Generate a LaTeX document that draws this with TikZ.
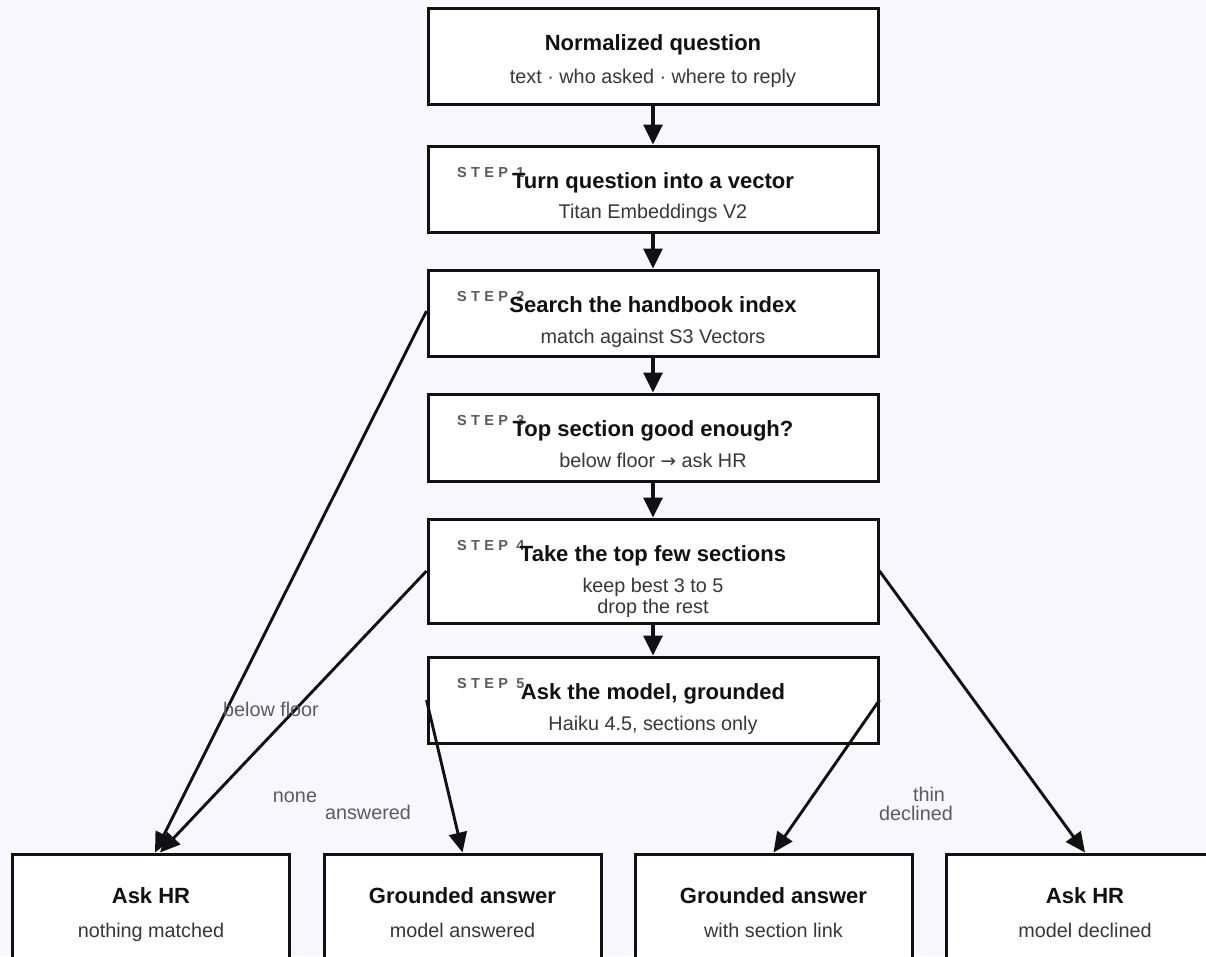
\documentclass[tikz,border=0pt]{standalone}
\usepackage{fontspec}
\setmainfont{Liberation Sans}
\newfontfamily\stepfont[LetterSpace=30]{Liberation Sans}
\newfontfamily\arrowfont{DejaVu Sans}
\usetikzlibrary{arrows.meta}
\definecolor{bg}{RGB}{248,247,254}
\definecolor{ink}{RGB}{17,17,17}
\definecolor{subc}{RGB}{55,55,58}
\definecolor{graylbl}{RGB}{90,90,95}
\begin{document}
\begin{tikzpicture}[x=1pt,y=-1pt,
  box/.style={draw=ink, line width=3pt, fill=white, minimum width=450pt, inner sep=0pt},
  bbox/.style={draw=ink, line width=3pt, fill=white, minimum width=277pt, minimum height=140pt, inner sep=0pt},
  ttl/.style={font=\fontsize{22}{26}\selectfont\bfseries, text=ink, anchor=base, inner sep=0pt},
  sub/.style={font=\fontsize{19.8}{23}\selectfont, text=subc, anchor=base, inner sep=0pt},
  steplbl/.style={font=\stepfont\fontsize{14.5}{16}\selectfont\bfseries, text=graylbl, anchor=base west, inner sep=0pt},
  elbl/.style={font=\fontsize{19.8}{22}\selectfont, text=graylbl, anchor=base, inner sep=0pt},
  flow/.style={-{Triangle[length=20pt,width=19pt]}, line width=3.4pt, draw=ink},
  dflow/.style={-{Triangle[length=20pt,width=18pt]}, line width=2.9pt, draw=ink}]
\useasboundingbox (0,0) rectangle (1206,956);
\clip (0,0) rectangle (1206,956);
\fill[bg] (0,0) rectangle (1206,956);

% main column boxes
\node[box, minimum height=96pt] (q) at (653,56) {};
\node[box, minimum height=86pt] (s1) at (653,189) {};
\node[box, minimum height=86pt] (s2) at (653,313) {};
\node[box, minimum height=87pt] (s3) at (653,437.5) {};
\node[box, minimum height=104pt] (s4) at (653,571) {};
\node[box, minimum height=86pt] (s5) at (653,700) {};

% bottom boxes
\node[bbox] (b1) at (151,924) {};
\node[bbox] (b2) at (462.5,924) {};
\node[bbox] (b3) at (773.5,924) {};
\node[bbox] (b4) at (1085,924) {};

% vertical connectors
\draw[flow] (q.south) -- (s1.north);
\draw[flow] (s1.south) -- (s2.north);
\draw[flow] (s2.south) -- (s3.north);
\draw[flow] (s3.south) -- (s4.north);
\draw[flow] (s4.south) -- (s5.north);

% diagonal connectors
\draw[dflow] ([yshift=2pt]s2.west) -- ([xshift=4pt]b1.north);
\draw[dflow] (s4.west) -- ([xshift=9pt]b1.north);
\draw[dflow] (s5.west) -- (b2.north);
\draw[dflow] (s5.east) -- (b3.north);
\draw[dflow] (s4.east) -- (b4.north);

% texts
\node[ttl] (qt) at (653,50) {Normalized question};
\node[sub] (qs) at (653,83) {text · who asked · where to reply};

\node[steplbl] (l1) at (457,177) {STEP 1};
\node[ttl] (t1) at (653,188) {Turn question into a vector};
\node[sub] (u1) at (653,218) {Titan Embeddings V2};

\node[steplbl] (l2) at (457,301) {STEP 2};
\node[ttl] (t2) at (653,312) {Search the handbook index};
\node[sub] (u2) at (653,343) {match against S3 Vectors};

\node[steplbl] (l3) at (457,425) {STEP 3};
\node[ttl] (t3) at (653,436) {Top section good enough?};
\node[sub] (u3) at (653,467) {below floor {\arrowfont\fontsize{18.5}{20}\selectfont →} ask HR};

\node[steplbl] (l4) at (457,550) {STEP 4};
\node[ttl] (t4) at (653,561) {Take the top few sections};
\node[sub] (u4a) at (653,592) {keep best 3 to 5};
\node[sub] (u4b) at (653,613) {drop the rest};

\node[steplbl] (l5) at (457,688) {STEP 5};
\node[ttl] (t5) at (653,699) {Ask the model, grounded};
\node[sub] (u5) at (653,730) {Haiku 4.5, sections only};

\node[ttl] (bt1) at (151,903) {Ask HR};
\node[sub] (bs1) at (151,937) {nothing matched};
\node[ttl] (bt2) at (462.5,903) {Grounded answer};
\node[sub] (bs2) at (462.5,937) {model answered};
\node[ttl] (bt3) at (773.5,903) {Grounded answer};
\node[sub] (bs3) at (773.5,937) {with section link};
\node[ttl] (bt4) at (1085,903) {Ask HR};
\node[sub] (bs4) at (1085,937) {model declined};

% edge labels
\node[elbl] (e1) at (271,716) {below floor};
\node[elbl] (e2) at (295,802) {none};
\node[elbl] (e3) at (368,819) {answered};
\node[elbl] (e4) at (929,801) {thin};
\node[elbl] (e5) at (916,820) {declined};
\end{tikzpicture}
\end{document}
